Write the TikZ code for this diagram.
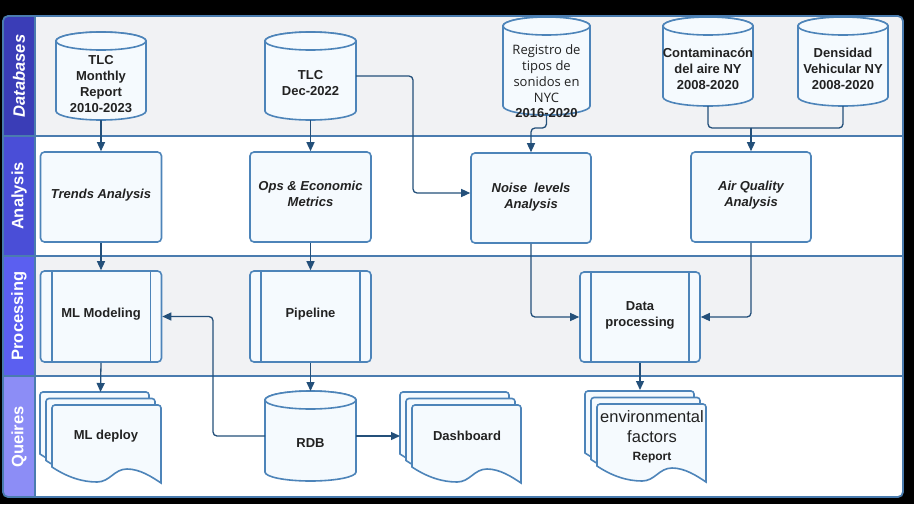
\documentclass[tikz,border=0pt]{standalone}
\usepackage{fontspec}
\setmainfont{Liberation Sans}
\newfontfamily\osans{Open Sans}
\usetikzlibrary{arrows.meta}
\definecolor{bord}{HTML}{4D84B9}
\definecolor{frameb}{HTML}{4A7CAF}
\definecolor{nfill}{HTML}{F5FAFE}
\definecolor{arr}{HTML}{24507A}
\definecolor{lanegrey}{HTML}{F1F2F4}
\definecolor{txt}{HTML}{222222}
\definecolor{labA}{HTML}{3A3DB7}
\definecolor{labB}{HTML}{4A4ED7}
\definecolor{labC}{HTML}{5B5FF0}
\definecolor{labD}{HTML}{8C8DF6}
\tikzset{
  shapebox/.style={draw=bord, line width=1.6pt, fill=nfill, rounded corners=4pt, inner sep=0pt},
  shapeline/.style={draw=bord, line width=1.6pt, fill=nfill},
  ghost/.style={inner sep=0pt, outer sep=0pt},
  conn/.style={draw=arr, line width=1.3pt, rounded corners=4pt, -{Triangle[length=9pt,width=8pt]}},
  connline/.style={draw=arr, line width=1.3pt, rounded corners=4pt},
  ttext/.style={font=\bfseries\fontsize{13}{16}\selectfont, text=txt, align=center},
  itext/.style={font=\bfseries\itshape\fontsize{13}{16}\selectfont, text=txt, align=center},
  otext/.style={font=\osans\fontsize{13}{16}\selectfont, text=txt, align=center},
  lanelab/.style={font=\bfseries\fontsize{16.5}{20}\selectfont, text=white, rotate=90},
}
% cylinder: cx, top y, bottom y, half width (pixel coords, y downward)
\newcommand\cylshape[4]{%
  \filldraw[shapeline] (#1-#4,-#2-9) -- (#1-#4,-#3+9)
    arc[start angle=180,end angle=360,x radius=#4,y radius=9]
    -- (#1+#4,-#2-9)
    arc[start angle=0,end angle=180,x radius=#4,y radius=9] -- cycle;
  \draw[shapeline] (#1,-#2-9) ellipse[x radius=#4,y radius=9];
}
% document: left x, top y (pixel coords, y downward)
\newcommand\docshape[2]{%
  \pgfmathsetmacro\dX{#1}\pgfmathsetmacro\dY{-(#2)}%
  \begin{scope}[shift={(\dX,\dY)}]
  \filldraw[shapeline] (0,-62) [rounded corners=3pt] -- (0,0) -- (109,0) [sharp corners] -- (109,-78)
    .. controls (100,-72) and (88,-64) .. (75,-64)
    .. controls (62,-64) and (58,-77) .. (45,-77)
    .. controls (30,-77) and (15,-72) .. (0,-62) -- cycle;
  \end{scope}
}
\newcommand\multidoc[2]{%
  \docshape{#1-12}{#2-13}\docshape{#1-6}{#2-6.5}\docshape{#1}{#2}%
}
\begin{document}
\begin{tikzpicture}[x=1pt,y=1pt]
\useasboundingbox (0,0) rectangle (914,-504);
\fill[black] (0,0) rectangle (914,-504);
% lanes
\begin{scope}
\clip[rounded corners=5pt] (3,-16) rectangle (903,-497);
\fill[lanegrey] (3,-16) rectangle (903,-136);
\fill[white] (3,-136) rectangle (903,-256);
\fill[lanegrey] (3,-256) rectangle (903,-376);
\fill[white] (3,-376) rectangle (903,-497);
\fill[labA] (3,-16) rectangle (35,-136);
\fill[labB] (3,-136) rectangle (35,-256);
\fill[labC] (3,-256) rectangle (35,-376);
\fill[labD] (3,-376) rectangle (35,-497);
\end{scope}
\draw[frameb, line width=1.8pt] (3,-136) -- (903,-136) (3,-256) -- (903,-256) (3,-376) -- (903,-376) (35,-16) -- (35,-497);
\draw[frameb, line width=1.8pt, rounded corners=5pt] (3,-16) rectangle (903,-497);
\node[lanelab, font=\bfseries\itshape\fontsize{16.5}{20}\selectfont] (l1) at (19,-76) {Databases};
\node[lanelab] (l2) at (19,-196) {Analysis};
\node[lanelab] (l3) at (19,-316) {Processing};
\node[lanelab] (l4) at (19,-437) {Queires};

% databases
\cylshape{101}{32}{120}{45}
\node[ghost, minimum width=90pt, minimum height=88pt] (db1) at (101,-76) {};
\node[ttext] (db1t) at (101,-84.5) {TLC\\Monthly\\Report\\2010-2023};
\cylshape{310.5}{32}{120}{45.5}
\node[ghost, minimum width=91pt, minimum height=88pt] (db2) at (310.5,-76) {};
\node[ttext] (db2t) at (310.5,-83.5) {TLC\\Dec-2022};
\cylshape{546.5}{17}{115}{43.5}
\node[ghost, minimum width=87pt, minimum height=98pt] (db3) at (546.5,-66) {};
\node[otext] (db3t) at (546.5,-81) {Registro de\\tipos de\\sonidos en\\NYC\\[-1pt]{\fontspec{Liberation Sans}\bfseries 2016-2020}};
\cylshape{708}{17}{106}{45}
\node[ghost, minimum width=90pt, minimum height=89pt] (db4) at (708,-61.5) {};
\node[ttext] (db4t) at (708,-69) {Contaminacón\\del aire NY\\2008-2020};
\cylshape{843}{17}{106}{45}
\node[ghost, minimum width=90pt, minimum height=89pt] (db5) at (843,-61.5) {};
\node[ttext] (db5t) at (843,-69) {Densidad\\Vehicular NY\\2008-2020};

% analysis
\node[shapebox, minimum width=121pt, minimum height=90pt] (trends) at (101,-197) {};
\node[itext] (trendst) at (101,-195) {Trends Analysis};
\node[shapebox, minimum width=121pt, minimum height=90pt] (ops) at (310.5,-197) {};
\node[itext] (opst) at (310.5,-194) {Ops \& Economic\\Metrics};
\node[shapebox, minimum width=120pt, minimum height=90pt] (noise) at (531,-198) {};
\node[itext] (noiset) at (531,-197) {Noise\ \ levels\\Analysis};
\node[shapebox, minimum width=120pt, minimum height=90pt] (aq) at (751,-197) {};
\node[itext] (aqt) at (751,-195) {Air Quality\\Analysis};

% processing
\node[shapebox, minimum width=121pt, minimum height=91pt] (ml) at (101,-316.5) {};
\draw[shapeline] ([xshift=12pt]ml.north west) -- ([xshift=12pt]ml.south west) ([xshift=-12pt]ml.north east) -- ([xshift=-12pt]ml.south east);
\node[ttext] (mlt) at (101,-314) {ML Modeling};
\node[shapebox, minimum width=121pt, minimum height=91pt] (pipe) at (310.5,-316.5) {};
\draw[shapeline] ([xshift=12pt]pipe.north west) -- ([xshift=12pt]pipe.south west) ([xshift=-12pt]pipe.north east) -- ([xshift=-12pt]pipe.south east);
\node[ttext] (pipet) at (310.5,-314) {Pipeline};
\node[shapebox, minimum width=120pt, minimum height=90pt] (dp) at (640,-317) {};
\draw[shapeline] ([xshift=12pt]dp.north west) -- ([xshift=12pt]dp.south west) ([xshift=-12pt]dp.north east) -- ([xshift=-12pt]dp.south east);
\node[ttext] (dpt) at (640,-315) {Data\\processing};

% queries
\multidoc{52}{405}
\node[ghost, minimum width=121pt, minimum height=91pt] (mld) at (100.5,-437.5) {};
\node[ttext] (mldt) at (106,-436) {ML deploy};
\cylshape{310.5}{391}{481}{45.5}
\node[ghost, minimum width=91pt, minimum height=90pt] (rdb) at (310.5,-436) {};
\node[ttext] (rdbt) at (310.5,-443) {RDB};
\multidoc{412}{405}
\node[ghost, minimum width=121pt, minimum height=91pt] (dash) at (460.5,-437.5) {};
\node[ttext] (dasht) at (467,-436) {Dashboard};
\multidoc{597}{404}
\node[ghost, minimum width=122pt, minimum height=95pt] (env) at (646,-437.5) {};
\node[font=\fontsize{16.5}{20}\selectfont, text=txt, align=center] (envt) at (652,-427) {environmental\\factors};
\node[ttext, font=\bfseries\fontsize{12}{14}\selectfont] (envr) at (652,-458) {Report};

% connectors
\coordinate (c1) at (413,-76);
\coordinate (r1) at (546.5,-128);
\coordinate (j1) at (751,-128);
\coordinate (k1) at (213,-436);
\draw[conn] (db1.south) -- (trends.north);
\draw[conn] (db2.south) -- (ops.north);
\draw[conn] (db2.east) -- (c1) |- ([yshift=5pt]noise.west);
\draw[conn] (db3.south) -- (r1) -| (noise.north);
\draw[connline] (db4.south) |- (j1);
\draw[connline] (db5.south) |- (j1);
\draw[conn] (j1) -- (aq.north);
\draw[conn] (trends.south) -- (ml.north);
\draw[conn] (ops.south) -- (pipe.north);
\draw[conn] (noise.south) |- (dp.west);
\draw[conn] (aq.south) |- (dp.east);
\draw[conn] (ml.south) -- (mld.north);
\draw[conn] (pipe.south) -- (rdb.north);
\draw[conn] (rdb.west) -- (k1) |- (ml.east);
\draw[conn] (rdb.east) -- (rdb.east -| dash.west);
\draw[conn] (dp.south) -- (dp.south |- env.north);
\end{tikzpicture}
\end{document}
